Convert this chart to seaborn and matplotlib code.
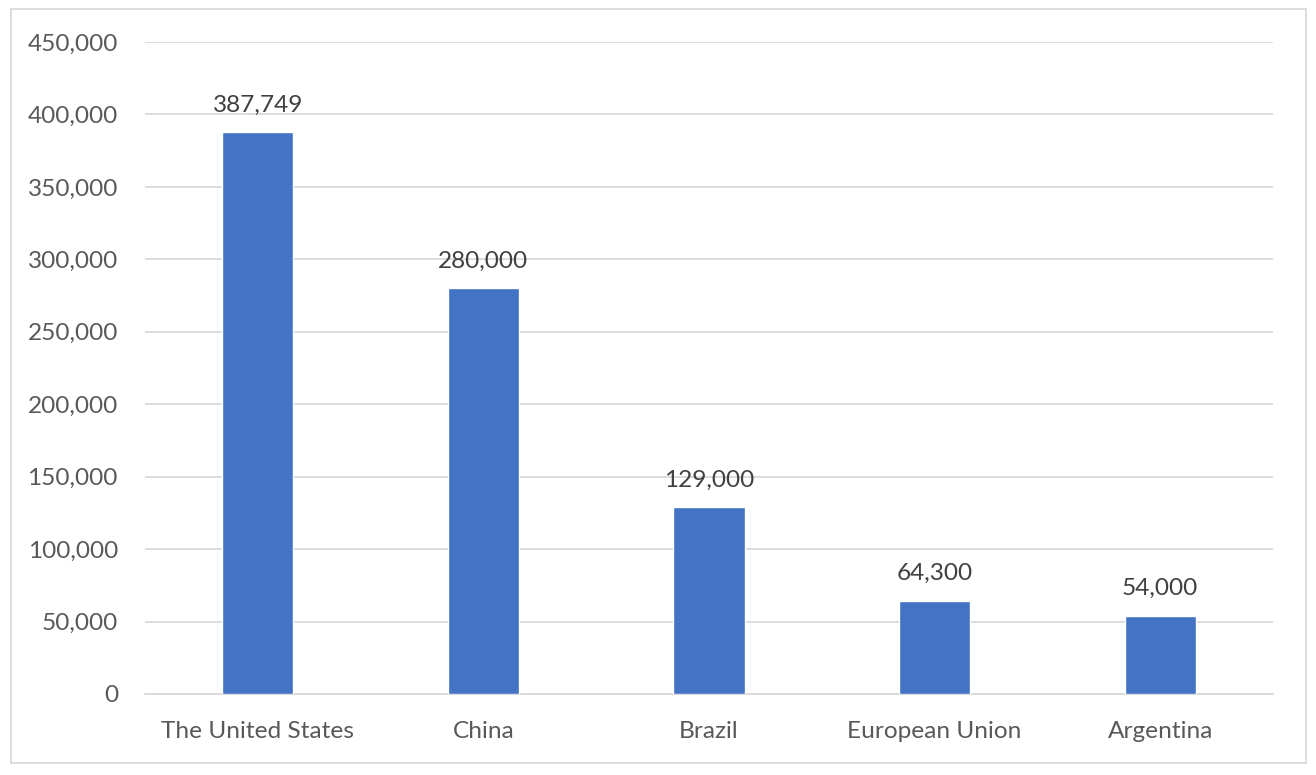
import matplotlib
matplotlib.use("Agg")
import pandas as pd
import matplotlib.pyplot as plt
import seaborn as sns
from matplotlib.patches import Rectangle
from matplotlib.ticker import FuncFormatter, MultipleLocator

# Data
countries = ["The United States", "China", "Brazil", "European Union", "Argentina"]
values = [387749, 280000, 129000, 64300, 54000]

BAR_COLOR = "#4472C4"
TEXT_COLOR = "#595959"
GRID_COLOR = "#D9D9D9"

sns.set_theme(style="white")
plt.rcParams["font.family"] = ["Lato", "DejaVu Sans"]

df = pd.DataFrame({"country": countries, "value": values})

fig = plt.figure(figsize=(13.16, 7.75), dpi=100)
ax = fig.add_axes([145 / 1316, 1 - 694 / 775, (1273 - 145) / 1316, (694 - 42) / 775])

sns.barplot(data=df, x="country", y="value", color=BAR_COLOR, width=0.315,
            saturation=1, ax=ax, zorder=3)

ax.set_ylim(0, 450000)
ax.set_xlim(-0.5, len(countries) - 0.5)
ax.yaxis.set_major_locator(MultipleLocator(50000))
ax.yaxis.set_major_formatter(FuncFormatter(lambda v, p: f"{int(v):,}"))
ax.grid(axis="y", color=GRID_COLOR, linewidth=1.3, zorder=0)
ax.set_axisbelow(True)
for s in ["top", "right", "left"]:
    ax.spines[s].set_visible(False)
ax.spines["bottom"].set_color(GRID_COLOR)
ax.spines["bottom"].set_linewidth(1.3)

ax.set_xlabel("")
ax.set_ylabel("")
ax.tick_params(axis="both", length=0, labelsize=17.6, colors=TEXT_COLOR)
ax.tick_params(axis="y", pad=19.5)
ax.tick_params(axis="x", pad=19.5)

for bar, v in zip(ax.patches, values):
    ax.annotate(f"{v:,}", (bar.get_x() + bar.get_width() / 2, bar.get_height()),
                xytext=(0, 12), textcoords="offset points", ha="center", va="bottom",
                fontsize=17.6, color="#404040")

# outer chart border
fig.patches.append(Rectangle((11 / 1316, 1 - 763 / 775), (1306 - 11) / 1316, (763 - 9) / 775,
                             transform=fig.transFigure, fill=False,
                             edgecolor=GRID_COLOR, linewidth=1.3))

fig.savefig("out.png", dpi=100, facecolor="white")
